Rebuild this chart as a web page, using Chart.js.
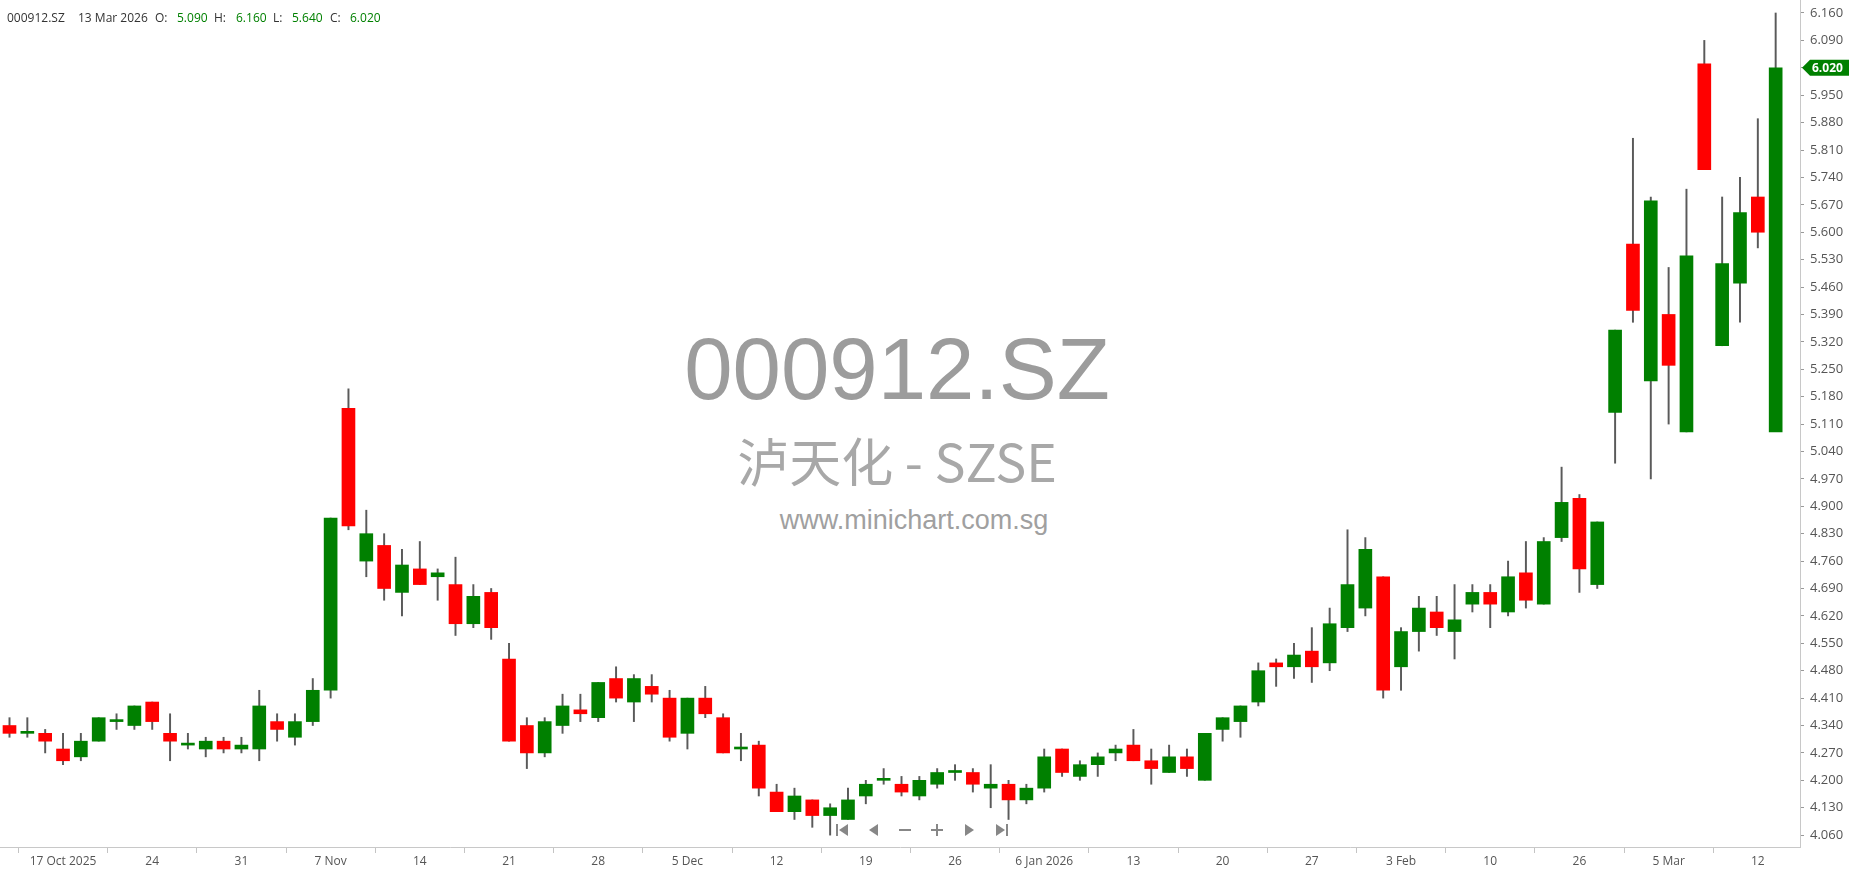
<!DOCTYPE html>
<html>
<head>
<meta charset="utf-8">
<title>000912.SZ</title>
<script src="https://cdn.jsdelivr.net/npm/chart.js@4.4.1/dist/chart.umd.min.js"></script>
<style>
  body { margin: 0; background: #fff; font-family: 'Open Sans', sans-serif; }
  #wrap { position: relative; width: 1850px; height: 874px; overflow: hidden; }
  #mark { position: absolute; left: 0; top: 0; width: 1800px; height: 847px; z-index: 0; }
  #mark div { position: absolute; width: 900px; text-align: center; font-family: 'Liberation Sans', Arial, sans-serif; white-space: nowrap; }
  #chartBox { position: absolute; left: 0; top: 0; width: 1850px; height: 874px; z-index: 1; }
  #head { position: absolute; left: 0; top: 0; z-index: 2; font-size: 12px; color: #333; }
  #head span { position: absolute; top: 12px; line-height: 1; white-space: nowrap; }
  #head .v { color: #008000; }
</style>
</head>
<body>
<div id="wrap">
  <div id="mark">
    <div style="left:447px;top:322px;font-size:87px;color:#9c9c9c;line-height:94px;">000912.SZ</div>
    <div style="left:447px;top:430px;font-size:52px;color:#a8a8a8;line-height:60px;font-family:'Noto Sans CJK SC','Liberation Sans',sans-serif;">泸天化 - SZSE</div>
    <div style="left:464px;top:504px;font-size:27px;color:#a0a0a0;line-height:32px;">www.minichart.com.sg</div>
  </div>
  <div id="chartBox"><canvas id="myChart"></canvas></div>
  <div id="head">
    <span style="left:7px">000912.SZ</span>
    <span style="left:78px">13 Mar 2026</span>
    <span style="left:155px">O:</span><span class="v" style="left:177px">5.090</span>
    <span style="left:214px">H:</span><span class="v" style="left:236px">6.160</span>
    <span style="left:273px">L:</span><span class="v" style="left:292px">5.640</span>
    <span style="left:330px">C:</span><span class="v" style="left:350px">6.020</span>
  </div>
</div>
<script>
// Precios diarios (apertura, máximo, mínimo, cierre)
const opens = [4.34, 4.32, 4.32, 4.28, 4.26, 4.30, 4.35, 4.34, 4.40, 4.32,
  4.29, 4.28, 4.30, 4.28, 4.28, 4.35, 4.31, 4.35, 4.43, 5.15,
  4.76, 4.80, 4.68, 4.74, 4.72, 4.70, 4.60, 4.68, 4.51, 4.34,
  4.27, 4.34, 4.38, 4.36, 4.46, 4.40, 4.44, 4.41, 4.32, 4.41,
  4.36, 4.28, 4.29, 4.17, 4.12, 4.15, 4.11, 4.10, 4.16, 4.20,
  4.19, 4.16, 4.19, 4.22, 4.22, 4.18, 4.19, 4.15, 4.18, 4.28,
  4.21, 4.24, 4.27, 4.29, 4.25, 4.22, 4.26, 4.20, 4.33, 4.35,
  4.40, 4.50, 4.49, 4.53, 4.50, 4.59, 4.64, 4.72, 4.49, 4.58,
  4.63, 4.58, 4.65, 4.68, 4.63, 4.73, 4.65, 4.82, 4.92, 4.70,
  5.14, 5.57, 5.22, 5.39, 5.09, 6.03, 5.31, 5.47, 5.69, 5.09];
const highs = [4.36, 4.36, 4.33, 4.32, 4.32, 4.36, 4.37, 4.39, 4.40, 4.37,
  4.32, 4.31, 4.31, 4.31, 4.43, 4.37, 4.37, 4.46, 4.87, 5.20,
  4.89, 4.83, 4.79, 4.81, 4.74, 4.77, 4.70, 4.69, 4.55, 4.36,
  4.36, 4.42, 4.42, 4.45, 4.49, 4.47, 4.47, 4.43, 4.41, 4.44,
  4.37, 4.32, 4.30, 4.19, 4.18, 4.15, 4.14, 4.18, 4.20, 4.23,
  4.21, 4.21, 4.23, 4.24, 4.23, 4.24, 4.20, 4.19, 4.28, 4.28,
  4.25, 4.27, 4.29, 4.33, 4.28, 4.29, 4.28, 4.32, 4.36, 4.39,
  4.50, 4.51, 4.55, 4.59, 4.64, 4.84, 4.82, 4.72, 4.59, 4.67,
  4.67, 4.70, 4.70, 4.70, 4.76, 4.81, 4.82, 5.00, 4.93, 4.86,
  5.35, 5.84, 5.69, 5.51, 5.71, 6.09, 5.69, 5.74, 5.89, 6.16];
const lows = [4.31, 4.31, 4.27, 4.24, 4.25, 4.30, 4.33, 4.33, 4.33, 4.25,
  4.28, 4.26, 4.27, 4.27, 4.25, 4.30, 4.29, 4.34, 4.41, 4.84,
  4.72, 4.66, 4.62, 4.70, 4.66, 4.57, 4.59, 4.56, 4.30, 4.23,
  4.26, 4.32, 4.35, 4.35, 4.40, 4.35, 4.40, 4.30, 4.28, 4.36,
  4.27, 4.25, 4.16, 4.12, 4.10, 4.08, 4.06, 4.10, 4.14, 4.19,
  4.16, 4.15, 4.18, 4.20, 4.17, 4.13, 4.10, 4.14, 4.17, 4.21,
  4.20, 4.21, 4.25, 4.25, 4.19, 4.22, 4.21, 4.20, 4.30, 4.31,
  4.39, 4.44, 4.46, 4.45, 4.48, 4.58, 4.62, 4.41, 4.43, 4.53,
  4.57, 4.51, 4.63, 4.59, 4.62, 4.64, 4.65, 4.81, 4.68, 4.69,
  5.01, 5.37, 4.97, 5.11, 5.09, 5.76, 5.31, 5.37, 5.56, 5.64];
const closes = [4.32, 4.32, 4.30, 4.25, 4.30, 4.36, 4.35, 4.39, 4.35, 4.30,
  4.29, 4.30, 4.28, 4.29, 4.39, 4.33, 4.35, 4.43, 4.87, 4.85,
  4.83, 4.69, 4.75, 4.70, 4.73, 4.60, 4.67, 4.59, 4.30, 4.27,
  4.35, 4.39, 4.37, 4.45, 4.41, 4.46, 4.42, 4.31, 4.41, 4.37,
  4.27, 4.28, 4.18, 4.12, 4.16, 4.11, 4.13, 4.15, 4.19, 4.20,
  4.17, 4.20, 4.22, 4.22, 4.19, 4.19, 4.15, 4.18, 4.26, 4.22,
  4.24, 4.26, 4.28, 4.25, 4.23, 4.26, 4.23, 4.32, 4.36, 4.39,
  4.48, 4.49, 4.52, 4.49, 4.60, 4.70, 4.79, 4.43, 4.58, 4.64,
  4.59, 4.61, 4.68, 4.65, 4.72, 4.66, 4.81, 4.91, 4.74, 4.86,
  5.35, 5.40, 5.68, 5.26, 5.54, 5.76, 5.52, 5.65, 5.60, 6.02];

// Etiquetas del eje X (posición de la vela y texto)
const dateTickIdx = [3, 8, 13, 18, 23, 28, 33, 38, 43, 48, 53, 58, 63, 68, 73, 78, 83, 88, 93, 98];
const dateTickLabels = ['17 Oct 2025', '24', '31', '7 Nov', '14', '21', '28', '5 Dec', '12', '19',
  '26', '6 Jan 2026', '13', '20', '27', '3 Feb', '10', '26', '5 Mar', '12'];

// Etiquetas del eje de precios
const priceTicks = [];
for (let k = 0; k <= 30; k++) priceTicks.push(Math.round((4.06 + 0.07 * k) * 1000) / 1000);

const upColor = '#008000';
const downColor = '#ff0000';
const lastClose = closes[closes.length - 1];

const bodies = opens.map((o, i) => ({ x: i, y: [o, closes[i]] }));
const wicks = lows.map((l, i) => ({ x: i, y: [l, highs[i]] }));
const bodyColors = opens.map((o, i) => closes[i] >= o ? upColor : downColor);

// Etiqueta del último precio y controles de navegación
const extrasPlugin = {
  id: 'extras',
  afterDraw(chart) {
    const ctx = chart.ctx;
    const y = chart.scales.y.getPixelForValue(lastClose);
    const x0 = chart.chartArea.right + 2;
    ctx.save();
    ctx.fillStyle = upColor;
    ctx.beginPath();
    ctx.moveTo(x0, y);
    ctx.lineTo(x0 + 8, y - 8);
    ctx.lineTo(1849, y - 8);
    ctx.lineTo(1849, y + 8);
    ctx.lineTo(x0 + 8, y + 8);
    ctx.closePath();
    ctx.fill();
    ctx.fillStyle = '#fff';
    ctx.font = "bold 12px 'Open Sans', sans-serif";
    ctx.textBaseline = 'middle';
    ctx.fillText(lastClose.toFixed(3), x0 + 10, y + 0.5);

    // botones de navegación
    const cy = 830;
    ctx.fillStyle = '#878787';
    // |<
    ctx.fillRect(836, cy - 6, 2, 12);
    ctx.beginPath(); ctx.moveTo(839, cy); ctx.lineTo(848, cy - 6); ctx.lineTo(848, cy + 6); ctx.closePath(); ctx.fill();
    // <
    ctx.beginPath(); ctx.moveTo(869, cy); ctx.lineTo(878, cy - 6); ctx.lineTo(878, cy + 6); ctx.closePath(); ctx.fill();
    // -
    ctx.fillRect(899, cy - 1, 12, 2);
    // +
    ctx.fillRect(931, cy - 1, 12, 2);
    ctx.fillRect(936, cy - 6, 2, 12);
    // >
    ctx.beginPath(); ctx.moveTo(974, cy); ctx.lineTo(965, cy - 6); ctx.lineTo(965, cy + 6); ctx.closePath(); ctx.fill();
    // >|
    ctx.beginPath(); ctx.moveTo(1005, cy); ctx.lineTo(996, cy - 6); ctx.lineTo(996, cy + 6); ctx.closePath(); ctx.fill();
    ctx.fillRect(1006, cy - 6, 2, 12);
    ctx.restore();
  }
};

Chart.defaults.font.family = "'Open Sans', sans-serif";
Chart.defaults.color = '#555';

const ctx = document.getElementById('myChart').getContext('2d');
new Chart(ctx, {
  type: 'bar',
  data: {
    datasets: [{
      label: 'Body',
      data: bodies,
      backgroundColor: bodyColors,
      barThickness: 13,
      minBarLength: 2,
      grouped: false,
      order: 0
    }, {
      label: 'Wick',
      data: wicks,
      backgroundColor: '#5a5a5a',
      barThickness: 1.3,
      grouped: false,
      order: 1
    }]
  },
  options: {
    responsive: true,
    maintainAspectRatio: false,
    animation: false,
    events: [],
    layout: { padding: 0 },
    plugins: {
      legend: { display: false },
      tooltip: { enabled: false }
    },
    scales: {
      x: {
        type: 'linear',
        min: -0.5325,
        max: 100.364,
        offset: false,
        afterBuildTicks: scale => { scale.ticks = dateTickIdx.map(v => ({ value: v })); },
        afterFit: scale => { scale.height = 27; scale.paddingLeft = 0; scale.paddingRight = 0; },
        ticks: {
          autoSkip: false,
          maxRotation: 0,
          padding: 1,
          color: '#555',
          font: { size: 12 },
          callback: v => dateTickLabels[dateTickIdx.indexOf(v)]
        },
        grid: { drawOnChartArea: false, drawTicks: true, tickLength: 6, color: '#c4c4c4' },
        border: { display: true, color: '#c8c8c8' }
      },
      y: {
        position: 'right',
        min: 4.0297,
        max: 6.1932,
        afterBuildTicks: scale => { scale.ticks = priceTicks.map(v => ({ value: v })); },
        afterFit: scale => { scale.width = 50; scale.paddingTop = 0; scale.paddingBottom = 0; },
        ticks: {
          padding: 6,
          color: '#555',
          font: { size: 13 },
          callback: v => v.toFixed(3)
        },
        grid: { drawOnChartArea: false, drawTicks: true, tickLength: 4, color: '#999' },
        border: { display: true, color: '#c8c8c8' }
      }
    }
  },
  plugins: [extrasPlugin]
});
</script>
</body>
</html>
